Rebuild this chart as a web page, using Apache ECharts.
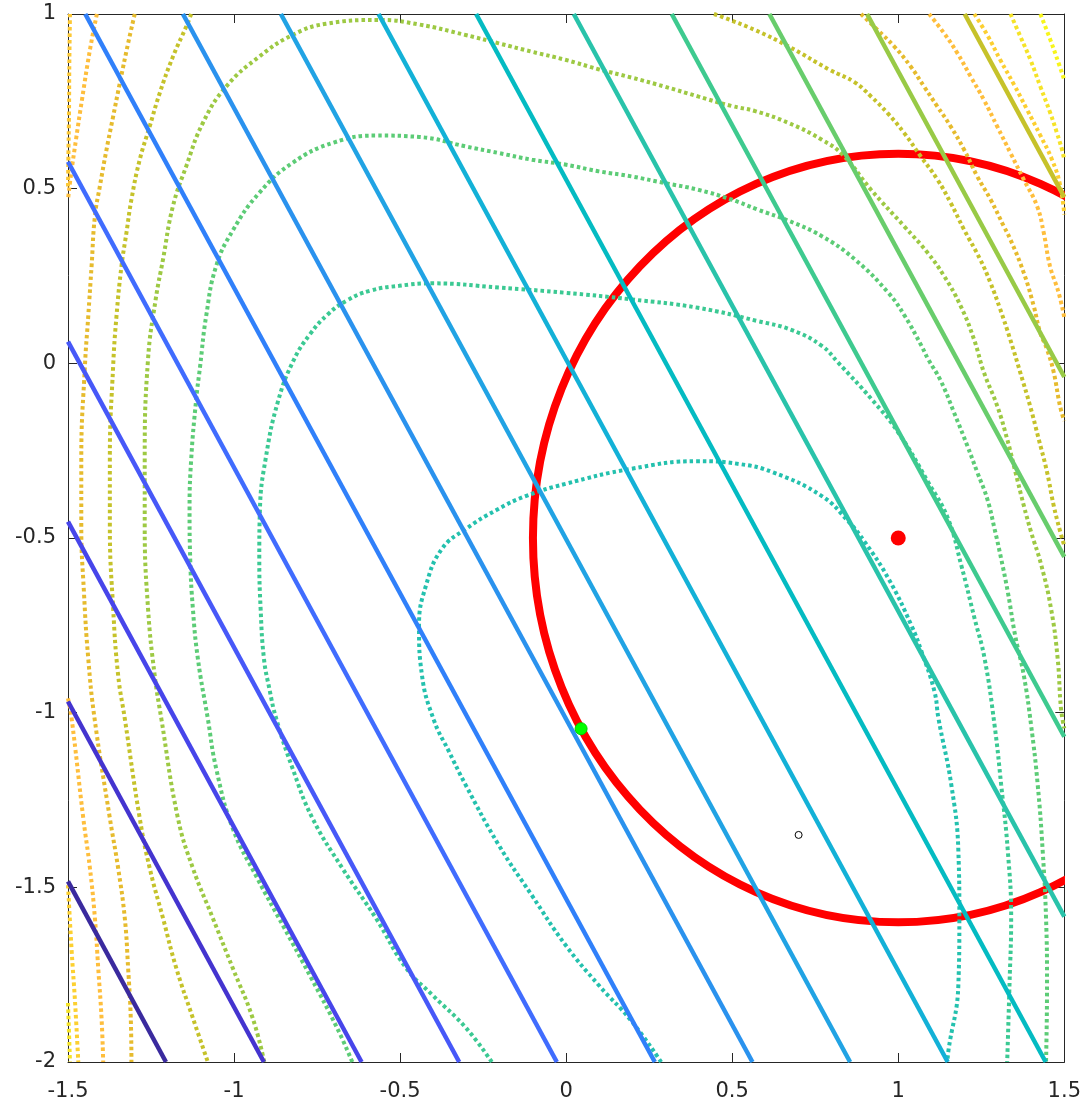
<!DOCTYPE html>
<html>
<head>
<meta charset="utf-8">
<script src="https://cdn.jsdelivr.net/npm/echarts@6/dist/echarts.min.js"></script>
<style>
html, body { margin: 0; padding: 0; background: #ffffff; }
#chart { width: 1084px; height: 1102px; }
</style>
</head>
<body>
<div id="chart"></div>
<script>
// ---- data -------------------------------------------------------------

// Linear model level lines: each entry is [start, end] in data units.
const linearLevelLines = [
  [[-1.5, -1.483], [-1.205, -2]],
  [[-1.5, -0.968], [-0.910, -2]],
  [[-1.5, -0.453], [-0.616, -2]],
  [[-1.5,  0.062], [-0.322, -2]],
  [[-1.5,  0.577], [-0.028, -2]],
  [[-1.448, 1], [0.267, -2]],
  [[-1.154, 1], [0.561, -2]],
  [[-0.859, 1], [0.855, -2]],
  [[-0.565, 1], [1.149, -2]],
  [[-0.271, 1], [1.444, -2]],
  [[0.023, 1], [1.5, -1.584]],
  [[0.318, 1], [1.5, -1.069]],
  [[0.612, 1], [1.5, -0.554]],
  [[0.906, 1], [1.5, -0.039]],
  [[1.200, 1], [1.5,  0.476]]
];

// Objective contour pieces (innermost level first).
const levelTeal = [
  [0.286,-2],[0.196,-1.882],[0.097,-1.779],[-0.002,-1.665],[-0.104,-1.522],[-0.203,-1.379],
  [-0.302,-1.208],[-0.353,-1.111],[-0.398,-1.022],[-0.434,-0.894],[-0.443,-0.751],[-0.422,-0.636],
  [-0.374,-0.531],[-0.302,-0.474],[-0.210,-0.420],[-0.122,-0.380],[-0.002,-0.345],[0.196,-0.302],
  [0.397,-0.280],[0.520,-0.288],[0.620,-0.311],[0.770,-0.380],[0.851,-0.454],[0.899,-0.511],
  [0.971,-0.617],[1.040,-0.751],[1.070,-0.825],[1.109,-0.939],[1.121,-1.016],[1.160,-1.208],
  [1.181,-1.396],[1.184,-1.588],[1.181,-1.779],[1.151,-1.968],[1.148,-2]
];
const levelTealGreen = [
  [-0.224,-2],[-0.302,-1.902],[-0.403,-1.808],[-0.482,-1.731],[-0.573,-1.588],[-0.674,-1.445],
  [-0.764,-1.302],[-0.824,-1.159],[-0.873,-1.017],[-0.894,-0.930],[-0.910,-0.845],[-0.920,-0.702],
  [-0.924,-0.560],[-0.922,-0.417],[-0.905,-0.274],[-0.868,-0.110],[-0.820,0.010],[-0.770,0.085],
  [-0.718,0.140],[-0.660,0.180],[-0.590,0.208],[-0.503,0.222],[-0.403,0.229],[-0.203,0.217],
  [-0.003,0.202],[0.197,0.183],[0.397,0.159],[0.577,0.121],[0.680,0.095],[0.770,0.050],
  [0.818,0.003],[0.920,-0.103],[1.000,-0.198],[1.090,-0.340],[1.150,-0.445],[1.190,-0.579],
  [1.230,-0.731],[1.260,-0.845],[1.290,-1.036],[1.310,-1.207],[1.330,-1.397],[1.340,-1.588],
  [1.335,-1.778],[1.328,-2]
];
const levelGreen = [
  [-0.644,-2],[-0.690,-1.902],[-0.768,-1.759],[-0.849,-1.616],[-0.930,-1.474],[-1.004,-1.331],
  [-1.054,-1.159],[-1.079,-1.017],[-1.109,-0.845],[-1.124,-0.702],[-1.132,-0.560],[-1.134,-0.417],
  [-1.129,-0.274],[-1.114,-0.103],[-1.102,-0.007],[-1.084,0.135],[-1.054,0.278],[-1.004,0.380],
  [-0.924,0.488],[-0.824,0.574],[-0.700,0.632],[-0.573,0.652],[-0.443,0.648],[-0.303,0.621],
  [-0.203,0.602],[-0.103,0.583],[-0.003,0.569],[0.097,0.550],[0.197,0.535],[0.297,0.516],
  [0.397,0.497],[0.497,0.469],[0.577,0.440],[0.670,0.408],[0.770,0.364],[0.870,0.297],
  [0.970,0.202],[1.020,0.135],[1.070,0.050],[1.090,0.012],[1.128,-0.050],[1.168,-0.141],
  [1.208,-0.236],[1.238,-0.312],[1.268,-0.388],[1.290,-0.474],[1.310,-0.560],[1.330,-0.655],
  [1.352,-0.779],[1.378,-0.893],[1.400,-1.036],[1.420,-1.207],[1.435,-1.397],[1.445,-1.588],
  [1.448,-1.778],[1.445,-2]
];
const levelYellowGreen = [
  [-0.909,-2],[-0.944,-1.874],[-1.004,-1.731],[-1.064,-1.588],[-1.124,-1.445],[-1.169,-1.302],
  [-1.219,-1.017],[-1.239,-0.893],[-1.259,-0.702],[-1.269,-0.464],[-1.269,-0.274],[-1.259,0.012],
  [-1.236,0.183],[-1.214,0.297],[-1.184,0.450],[-1.144,0.564],[-1.094,0.688],[-1.024,0.792],
  [-0.924,0.878],[-0.824,0.940],[-0.723,0.972],[-0.563,0.983],[-0.443,0.970],[-0.303,0.940],
  [-0.203,0.916],[-0.103,0.892],[-0.003,0.869],[0.097,0.842],[0.197,0.818],[0.297,0.792],
  [0.397,0.764],[0.497,0.737],[0.569,0.722],[0.670,0.688],[0.770,0.640],[0.833,0.597],
  [0.918,0.497],[1.018,0.392],[1.088,0.317],[1.138,0.250],[1.188,0.164],[1.228,0.069],
  [1.258,-0.026],[1.298,-0.122],[1.328,-0.217],[1.353,-0.312],[1.378,-0.407],[1.400,-0.483],
  [1.430,-0.575],[1.460,-0.702],[1.480,-0.845],[1.490,-0.988],[1.500,-1.045]
];
const levelOliveWest = [
  [-1.129,1],[-1.144,0.964],[-1.184,0.878],[-1.224,0.773],[-1.254,0.678],[-1.284,0.583],
  [-1.309,0.469],[-1.324,0.374],[-1.339,0.278],[-1.354,0.135],[-1.364,-0.007],[-1.374,-0.274],
  [-1.374,-0.464],[-1.364,-0.702],[-1.349,-0.893],[-1.329,-1.017],[-1.284,-1.302],[-1.254,-1.445],
  [-1.214,-1.588],[-1.174,-1.731],[-1.124,-1.874],[-1.079,-2]
];
const levelOliveEast = [
  [0.445,1],[0.469,0.992],[0.569,0.954],[0.670,0.907],[0.794,0.840],[0.868,0.805],[0.918,0.764],
  [0.968,0.716],[1.018,0.659],[1.068,0.592],[1.118,0.526],[1.158,0.459],[1.198,0.383],
  [1.247,0.297],[1.277,0.232],[1.307,0.155],[1.337,0.069],[1.367,-0.025],[1.397,-0.122],
  [1.423,-0.217],[1.448,-0.311],[1.468,-0.407],[1.488,-0.483],[1.500,-0.522]
];
const levelGoldWest = [
  [-1.299,1],[-1.319,0.916],[-1.344,0.802],[-1.364,0.707],[-1.384,0.612],[-1.404,0.507],
  [-1.419,0.421],[-1.429,0.278],[-1.439,0.135],[-1.449,-0.007],[-1.460,-0.274],[-1.460,-0.464],
  [-1.452,-0.655],[-1.439,-0.845],[-1.420,-1.017],[-1.374,-1.302],[-1.349,-1.445],[-1.329,-1.588],
  [-1.319,-1.731],[-1.311,-1.874],[-1.309,-2]
];
const levelGoldEast = [
  [0.888,1],[0.938,0.954],[0.988,0.907],[1.038,0.849],[1.078,0.792],[1.118,0.735],[1.158,0.678],
  [1.198,0.612],[1.238,0.535],[1.278,0.469],[1.318,0.392],[1.338,0.354],[1.378,0.259],
  [1.408,0.164],[1.427,0.089],[1.448,0.040],[1.468,-0.025],[1.487,-0.122],[1.500,-0.165]
];
const levelOrangeNorthWest = [
  [-1.413,1],[-1.434,0.897],[-1.458,0.754],[-1.476,0.640],[-1.491,0.540],[-1.500,0.469]
];
const levelOrangeSouthWest = [
  [-1.500,-0.959],[-1.489,-1.017],[-1.454,-1.302],[-1.434,-1.445],[-1.419,-1.588],
  [-1.409,-1.731],[-1.399,-1.874],[-1.394,-2]
];
const levelOrangeEast = [
  [1.093,1],[1.138,0.945],[1.178,0.888],[1.218,0.821],[1.258,0.754],[1.298,0.678],[1.338,0.602],
  [1.378,0.526],[1.418,0.450],[1.438,0.374],[1.457,0.278],[1.483,0.202],[1.500,0.131]
];
const levelAmberNorthWest = [
  [-1.494,1],[-1.496,0.86],[-1.497,0.72],[-1.499,0.58],[-1.500,0.50]
];
const levelAmberSouthWest = [
  [-1.500,-1.494],[-1.489,-1.682],[-1.479,-1.825],[-1.469,-2]
];
const levelAmberEast = [
  [1.229,1],[1.268,0.940],[1.307,0.869],[1.349,0.797],[1.388,0.726],[1.427,0.654],
  [1.463,0.583],[1.487,0.512],[1.500,0.426]
];
const levelYellowEast = [
  [1.338,1],[1.368,0.935],[1.398,0.869],[1.428,0.792],[1.458,0.716],[1.478,0.659],[1.493,0.612],[1.500,0.583]
];
const levelYellowSouthWest = [
  [-1.500,-1.831],[-1.494,-2]
];
const levelBrightEast = [
  [1.428,1],[1.458,0.926],[1.483,0.859],[1.500,0.811]
];

// Trust region: centre and radius.
const regionCentre = [1, -0.5];
const regionRadius = 1.1;

// Marked points.
const centrePoint = [[1, -0.5]];
const stepPoint = [[0.045, -1.046]];
const openPoint = [[0.7, -1.35]];

// Axis ticks.
const xTickStep = 0.5;
const yTickStep = 0.5;

// ---- styling ------------------------------------------------------------

const linearLineColors = [
  '#3a2a9e', '#4434cf', '#4745ea', '#4758f8', '#406cfe', '#3080fa', '#2a92ee', '#21a3e4',
  '#13b1d7', '#04bbc2', '#29c3aa', '#3eca8f', '#68cd6c', '#98ca46', '#c6c22a'
];

const contourPieces = [
  [levelTeal, '#24c1ae'],
  [levelTealGreen, '#3bc993'],
  [levelGreen, '#5ccc76'],
  [levelYellowGreen, '#9dc943'],
  [levelOliveWest, '#c5c22a'],
  [levelOliveEast, '#c5c22a'],
  [levelGoldWest, '#e6bb2d'],
  [levelGoldEast, '#e6bb2d'],
  [levelOrangeNorthWest, '#febe3c'],
  [levelOrangeSouthWest, '#febe3c'],
  [levelOrangeEast, '#febe3c'],
  [levelAmberNorthWest, '#fcc835'],
  [levelAmberSouthWest, '#fcd030'],
  [levelAmberEast, '#fccf30'],
  [levelYellowEast, '#f5e327'],
  [levelYellowSouthWest, '#f5e327'],
  [levelBrightEast, '#f7f51b']
];

const axisColor = '#262626';
const fontFamily = '"DejaVu Sans", Verdana, sans-serif';

// ---- chart ------------------------------------------------------------------

const chart = echarts.init(document.getElementById('chart'), null, { renderer: 'canvas' });

const series = [];

series.push({
  type: 'custom',
  name: 'trust region',
  coordinateSystem: 'cartesian2d',
  clip: true,
  silent: true,
  z: 1,
  data: [[regionCentre[0], regionCentre[1], regionRadius]],
  encode: { x: 0, y: 1 },
  renderItem: function (params, api) {
    const c = api.coord([api.value(0), api.value(1)]);
    const r = api.size([api.value(2), api.value(2)]);
    return {
      type: 'ellipse',
      shape: { cx: c[0], cy: c[1], rx: r[0], ry: r[1] },
      style: { fill: 'none', stroke: '#ff0000', lineWidth: 8 }
    };
  }
});

contourPieces.forEach(function (piece) {
  series.push({
    type: 'line',
    data: piece[0],
    showSymbol: false,
    smooth: 0.45,
    silent: true,
    z: 2,
    lineStyle: { color: piece[1], width: 4, type: [3.5, 3.0], cap: 'butt', opacity: 1 }
  });
});

linearLevelLines.forEach(function (seg, i) {
  series.push({
    type: 'line',
    data: seg,
    showSymbol: false,
    silent: true,
    z: 3,
    lineStyle: { color: linearLineColors[i], width: 4.5 }
  });
});

series.push({
  type: 'scatter', data: centrePoint, symbol: 'circle', symbolSize: 15, z: 4, silent: true,
  itemStyle: { color: '#ff0000', opacity: 1 }
});
series.push({
  type: 'scatter', data: stepPoint, symbol: 'circle', symbolSize: 12, z: 4, silent: true,
  itemStyle: { color: '#00ff00', borderColor: '#00d000', borderWidth: 1, opacity: 1 }
});
series.push({
  type: 'scatter', data: openPoint, symbol: 'circle', symbolSize: 7, z: 4, silent: true,
  itemStyle: { color: '#ffffff', borderColor: '#000000', borderWidth: 1, opacity: 1 }
});

function makeAxis(pos, min, max, step, showLabel) {
  return {
    type: 'value',
    position: pos,
    min: min,
    max: max,
    interval: step,
    axisLine: { show: true, onZero: false, lineStyle: { color: axisColor, width: 1 } },
    axisTick: { show: true, inside: true, length: 9, lineStyle: { color: axisColor, width: 1 } },
    splitLine: { show: false },
    axisLabel: {
      show: showLabel,
      color: axisColor,
      fontSize: 21,
      fontFamily: fontFamily,
      margin: (pos === 'bottom') ? 19 : 12
    }
  };
}

chart.setOption({
  animation: false,
  backgroundColor: '#ffffff',
  grid: { left: 68, right: 17, top: 14, bottom: 38, containLabel: false },
  xAxis: [
    makeAxis('bottom', -1.5, 1.5, xTickStep, true),
    makeAxis('top', -1.5, 1.5, xTickStep, false)
  ],
  yAxis: [
    makeAxis('left', -2, 1, yTickStep, true),
    makeAxis('right', -2, 1, yTickStep, false)
  ],
  series: series
});
</script>
</body>
</html>
